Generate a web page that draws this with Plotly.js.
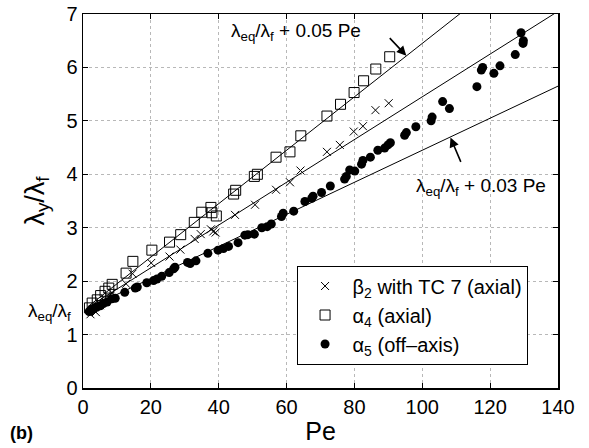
<!DOCTYPE html>
<html>
<head>
<meta charset="utf-8">
<script src="https://cdn.plot.ly/plotly-3.0.1.min.js"></script>
<style>
html,body{margin:0;padding:0;background:#fff;}
#chart{width:589px;height:448px;}
</style>
</head>
<body>
<div id="chart"></div>
<script>
// beta_2 with TC 7 (axial)
var betaPe = [2.2,3.0,3.8,5.0,6.3,7.5,8.6,12.7,14.6,20.1,25.5,28.7,32.9,34.7,37.7,38.4,39.1,44.8,50.7,56.9,61.0,64.1,71.9,75.7,79.8,82.5,86.2,90.1];
var betaY  = [1.38,1.47,1.42,1.55,1.62,1.72,1.78,1.95,2.14,2.34,2.46,2.59,2.79,2.88,2.97,2.93,2.91,3.24,3.43,3.71,3.85,4.07,4.42,4.55,4.80,4.90,5.20,5.33];

// alpha_4 (axial)
var a4Pe = [1.9,2.7,4.2,5.2,6.5,7.6,8.6,12.7,14.7,20.3,25.5,28.8,32.8,35.0,37.7,38.0,39.3,44.4,45.0,50.5,51.4,56.9,61.0,64.2,71.9,75.9,79.9,82.7,86.3,90.4];
var a4Y  = [1.50,1.59,1.65,1.73,1.81,1.87,1.94,2.15,2.37,2.58,2.73,2.87,3.10,3.29,3.38,3.28,3.22,3.63,3.70,3.96,4.00,4.32,4.42,4.72,5.09,5.31,5.53,5.75,5.97,6.20];

// alpha_5 (off-axis)
var a5Pe = [1.8,2.1,2.5,3.2,4.0,5.1,6.0,7.1,8.5,9.5,12.3,15.4,16.0,18.8,20.8,21.8,23.2,25.4,26.7,27.1,30.8,31.6,33.3,36.8,39.8,41.4,42.9,45.7,47.7,48.6,50.5,52.7,54.3,55.5,58.5,59.0,62.1,65.4,67.4,67.8,70.3,72.9,77.1,77.6,78.6,80.1,82.1,82.5,84.7,86.9,88.9,89.9,90.6,94.8,95.3,98.1,102.6,102.9,106.0,108.0,116.1,117.4,117.8,121.1,122.9,127.4,129.1,129.7,129.8];
var a5Y  = [1.43,1.44,1.47,1.49,1.51,1.54,1.58,1.61,1.67,1.68,1.79,1.87,1.89,1.97,2.01,2.04,2.09,2.16,2.23,2.26,2.35,2.33,2.38,2.52,2.58,2.61,2.65,2.72,2.86,2.87,2.88,3.00,3.02,3.07,3.21,3.27,3.31,3.49,3.55,3.59,3.66,3.78,3.91,3.96,4.08,4.06,4.19,4.26,4.32,4.45,4.49,4.55,4.59,4.73,4.78,4.89,5.00,5.07,5.36,5.23,5.64,5.95,6.00,5.89,6.03,6.24,6.65,6.45,6.50];

// reference lines  lambda_eq/lambda_f + k Pe  (end points)
var refLinePe  = [1.5, 140];
var ref005Y    = [1.525, 8.45];
var ref004Y    = [1.51, 7.05];
var ref003Y    = [1.495, 5.65];

var xTicks = [0,20,40,60,80,100,120,140];
var yTicks = [0,1,2,3,4,5,6,7];

var FONT = 'Liberation Sans, Arial, Helvetica, sans-serif';

function refLine(y){
  return {x: refLinePe, y: y, mode:'lines', type:'scatter', showlegend:false,
          line:{color:'#000', width:1}, hoverinfo:'skip'};
}

var traces = [
  refLine(ref005Y), refLine(ref004Y), refLine(ref003Y),
  {x: betaPe, y: betaY, mode:'markers', type:'scatter',
   name:'β<sub>2</sub> with TC 7 (axial)',
   marker:{symbol:'x-thin-open', size:8, color:'#000', line:{color:'#000', width:1}}},
  {x: a4Pe, y: a4Y, mode:'markers', type:'scatter',
   name:'α<sub>4</sub> (axial)',
   marker:{symbol:'square-open', size:10, color:'#000', line:{color:'#000', width:1}}},
  {x: a5Pe, y: a5Y, mode:'markers', type:'scatter',
   name:'α<sub>5</sub> (off–axis)',
   marker:{symbol:'circle', size:9, color:'#000', line:{width:0}}}
];

var axisCommon = {
  showline:true, linecolor:'#000', linewidth:1.5, mirror:'ticks',
  ticks:'inside', ticklen:5, tickcolor:'#000', tickwidth:1,
  showgrid:true, gridcolor:'#b8b8b8', griddash:'dot', gridwidth:1,
  zeroline:false, tickfont:{family:FONT, size:20, color:'#000'}
};

var layout = {
  width:589, height:448,
  margin:{l:83, r:31, t:14, b:60, pad:0},
  paper_bgcolor:'#fff', plot_bgcolor:'#fff',
  font:{family:FONT, color:'#000'},
  xaxis: Object.assign({}, axisCommon, {
    range:[0,140], tickvals:xTicks, ticktext:xTicks.map(String),
    title:{text:'Pe', font:{family:FONT, size:25, color:'#000'}, standoff:6}
  }),
  yaxis: Object.assign({}, axisCommon, {
    range:[0,7], tickvals:yTicks, ticktext:yTicks.map(String),
    title:{text:'λ<sub>y</sub>/λ<sub>f</sub>', font:{family:FONT, size:27, color:'#000'}, standoff:14}
  }),
  showlegend:true,
  legend:{x:0.4496, y:0.3275, xanchor:'left', yanchor:'top',
          bgcolor:'#fff', bordercolor:'#000', borderwidth:1, itemwidth:45,
          font:{family:FONT, size:20, color:'#000'}, tracegroupgap:0},
  annotations:[
    {xref:'x', yref:'y', x:62.7, y:6.66, text:'λ<sub>eq</sub>/λ<sub>f</sub> + 0.05 Pe',
     showarrow:false, xanchor:'center', yanchor:'middle', font:{family:FONT, size:19, color:'#000'}},
    {xref:'x', yref:'y', x:95.3, y:6.22, ax:-18, ay:-19, text:'',
     showarrow:true, arrowhead:2, arrowsize:1.2, arrowwidth:1.6, arrowcolor:'#000'},
    {xref:'x', yref:'y', x:117.2, y:3.76, text:'λ<sub>eq</sub>/λ<sub>f</sub> + 0.03 Pe',
     showarrow:false, xanchor:'center', yanchor:'middle', font:{family:FONT, size:19, color:'#000'}},
    {xref:'x', yref:'y', x:108.3, y:4.69, ax:11, ay:26, text:'',
     showarrow:true, arrowhead:2, arrowsize:1.2, arrowwidth:1.6, arrowcolor:'#000'},
    {xref:'paper', yref:'y', x:-0.022, y:1.42, text:'λ<sub>eq</sub>/λ<sub>f</sub>',
     showarrow:false, xanchor:'right', yanchor:'middle', font:{family:FONT, size:19, color:'#000'}},
    {xref:'paper', yref:'paper', x:-0.158, y:-0.12, text:'<b>(b)</b>',
     showarrow:false, xanchor:'left', yanchor:'middle', font:{family:FONT, size:18, color:'#000'}}
  ]
};

Plotly.newPlot('chart', traces, layout, {staticPlot:true, displayModeBar:false});
</script>
</body>
</html>
